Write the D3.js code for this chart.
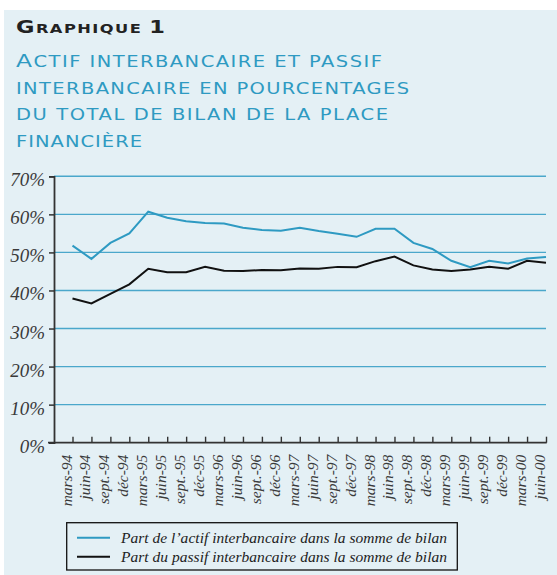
<!DOCTYPE html>
<html>
<head>
<meta charset="utf-8">
<script src="https://cdn.jsdelivr.net/npm/d3@7"></script>
<style>
  body { margin: 0; background: #fff; }
  svg { display: block; }
</style>
</head>
<body>
<div id="chart"></div>
<script>
const periods = [
  'mars-94', 'juin-94', 'sept.-94', 'déc-94',
  'mars-95', 'juin-95', 'sept.-95', 'déc-95',
  'mars-96', 'juin-96', 'sept.-96', 'déc-96',
  'mars-97', 'juin-97', 'sept.-97', 'déc-97',
  'mars-98', 'juin-98', 'sept.-98', 'déc-98',
  'mars-99', 'juin-99', 'sept.-99', 'déc-99',
  'mars-00', 'juin-00',
]

// part de l'actif interbancaire (%)
const actif = [
  51.8, 48.3, 52.5, 55.0,
  60.7, 59.1, 58.2, 57.7,
  57.6, 56.5, 55.9, 55.7,
  56.5, 55.6, 54.9, 54.1,
  56.2, 56.2, 52.5, 50.9,
  47.8, 46.1, 47.8, 47.1,
  48.4, 48.8,
]

// part du passif interbancaire (%)
const passif = [
  37.9, 36.6, 39.1, 41.6,
  45.7, 44.8, 44.8, 46.2,
  45.2, 45.1, 45.4, 45.3,
  45.8, 45.7, 46.2, 46.1,
  47.7, 48.9, 46.6, 45.5,
  45.1, 45.5, 46.2, 45.7,
  47.8, 47.3,
]

const yTicks = [0, 10, 20, 30, 40, 50, 60, 70]

const seriesNames = [
  'Part de l’actif interbancaire dans la somme de bilan',
  'Part du passif interbancaire dans la somme de bilan',
]

const titleLines = [
  'Actif interbancaire et passif',
  'interbancaire en pourcentages',
  'du total de bilan de la place',
  'financière',
]

const width = 557
const height = 575
const blue = '#2e9ac2'
const serif = '"Liberation Serif", "Times New Roman", serif'
const sans = '"DejaVu Sans", Verdana, sans-serif'

const svg = d3.select('#chart').append('svg')
  .attr('width', width)
  .attr('height', height)

svg.append('rect')
  .attr('x', 4).attr('y', 10)
  .attr('width', width - 4).attr('height', height - 10)
  .attr('fill', '#e4f0f5')

// small caps drawn by hand, stretched wide like the original face
function smallCaps(sel, str, big, small, targetWidth, sx) {
  const runs = []
  for (const ch of str) {
    const isBig = ch !== ch.toLowerCase() || /[0-9]/.test(ch)
    const size = isBig ? big : small
    const last = runs[runs.length - 1]
    if (last && last.size === size) last.text += ch.toUpperCase()
    else runs.push({ size, text: ch.toUpperCase() })
  }
  sel.selectAll('tspan').data(runs).join('tspan')
    .attr('font-size', d => d.size)
    .text(d => d.text)
  const w = sel.node().getComputedTextLength()
  const n = [...str].length
  sel.attr('letter-spacing', (targetWidth / sx - w) / (n - 1))
}

const headScale = 1.25
const head = svg.append('text')
  .attr('transform', `translate(16,33.3) scale(${headScale},1)`)
  .attr('font-family', sans)
  .attr('font-weight', 'bold')
  .attr('fill', '#222')
smallCaps(head, 'Graphique 1', 18, 13, 149, headScale)

const titleScale = 1.3
const titleWidths = [366, 393, 372, 126]
titleLines.forEach((line, i) => {
  const t = svg.append('text')
    .attr('transform', `translate(16,${67.3 + i * 26.5}) scale(${titleScale},1)`)
    .attr('font-family', sans)
    .attr('fill', blue)
  smallCaps(t, line, 18, 15, titleWidths[i], titleScale)
})

// chart
const x = d3.scalePoint().domain(periods).range([72.5, 546])
const y = d3.scaleLinear().domain([0, 70]).range([442.7, 176.3])

const g = svg.append('g')

g.append('g')
  .selectAll('line')
  .data(yTicks.filter(d => d > 0))
  .join('line')
  .attr('x1', 54).attr('x2', 546)
  .attr('y1', d => y(d)).attr('y2', d => y(d))
  .attr('stroke', '#4aa7cb')
  .attr('stroke-width', 1.4)

const yAxis = g.append('g')
  .attr('transform', 'translate(54,0)')
  .call(d3.axisLeft(y).tickValues(yTicks).tickSize(5).tickFormat(d => d + '%'))
yAxis.select('.domain').attr('stroke', '#333').attr('stroke-width', 1.8)
yAxis.selectAll('.tick line').attr('stroke', '#333').attr('stroke-width', 1.5)
yAxis.selectAll('.tick text')
  .attr('x', -9).attr('dy', 9.5)
  .attr('font-family', serif)
  .attr('font-style', 'italic')
  .attr('font-size', 19)
  .attr('fill', '#3a3a3a')

const xAxis = g.append('g')
  .attr('transform', `translate(0,${y(0)})`)
  .call(d3.axisBottom(x).tickSize(-6).tickSizeOuter(0))
xAxis.select('.domain').remove()
xAxis.append('line')
  .attr('x1', 48).attr('x2', 546.7)
  .attr('stroke', '#333').attr('stroke-width', 1.8)
xAxis.selectAll('.tick line').attr('stroke', '#333').attr('stroke-width', 1.4)
xAxis.selectAll('.tick text')
  .attr('transform', 'rotate(-90)')
  .attr('x', -12).attr('y', 0).attr('dy', -1.5)
  .attr('text-anchor', 'end')
  .attr('font-family', serif)
  .attr('font-style', 'italic')
  .attr('font-size', 15.5)
  .attr('fill', '#3a3a3a')

const line = d3.line()
  .x((d, i) => x(periods[i]))
  .y(d => y(d))

g.append('path')
  .datum(actif)
  .attr('d', line)
  .attr('fill', 'none')
  .attr('stroke', blue)
  .attr('stroke-width', 2)

g.append('path')
  .datum(passif)
  .attr('d', line)
  .attr('fill', 'none')
  .attr('stroke', '#111')
  .attr('stroke-width', 2)

// legend
const legend = svg.append('g')
legend.append('rect')
  .attr('x', 66.7).attr('y', 522.7)
  .attr('width', 390.6).attr('height', 47.3)
  .attr('fill', 'none')
  .attr('stroke', '#111')
  .attr('stroke-width', 1.3)

const items = legend.selectAll('g.item')
  .data(seriesNames.map((name, i) => ({ name, color: [blue, '#111'][i] })))
  .join('g')
  .attr('transform', (d, i) => `translate(0,${537.7 + i * 19})`)
items.append('line')
  .attr('x1', 77).attr('x2', 110)
  .attr('stroke', d => d.color)
  .attr('stroke-width', 2)
items.append('text')
  .attr('x', 121).attr('y', 5)
  .attr('font-family', serif)
  .attr('font-style', 'italic')
  .attr('font-size', 15.5)
  .attr('fill', '#222')
  .attr('textLength', 326)
  .attr('lengthAdjust', 'spacing')
  .text(d => d.name)
</script>
</body>
</html>
